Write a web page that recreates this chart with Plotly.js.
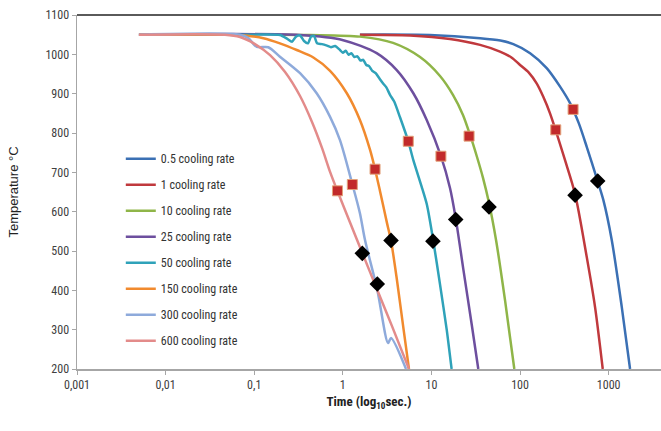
<!DOCTYPE html>
<html>
<head>
<meta charset="utf-8">
<script src="https://cdn.plot.ly/plotly-3.0.1.min.js"></script>
<style>html,body{margin:0;padding:0;background:#fff;}#chart{width:661px;height:431px;}</style>
</head>
<body>
<div id="chart"></div>
<script>
// ---- data ----
const seriesNames = ['0.5 cooling rate','1 cooling rate','10 cooling rate','25 cooling rate','50 cooling rate','150 cooling rate','300 cooling rate','600 cooling rate'];

const time05 = [1.56, 9.6, 35.4, 60, 84, 130, 200, 283, 367, 460, 566, 745, 871, 1084, 1406, 1745];
const temp05 = [1050, 1049, 1041, 1035, 1026, 1003, 965, 918, 876, 825, 765, 680, 630, 528, 358, 200];

const time1 = [1.56, 5.73, 16.2, 35.4, 59.4, 80, 100, 125, 154, 183, 218, 322, 418, 566, 702, 858];
const temp1 = [1050, 1048, 1039, 1024, 1007, 992, 973, 954, 926, 892, 850, 731, 645, 485, 358, 200];

const time10 = [0.206, 0.427, 1.56, 3.69, 7.44, 12.5, 17.5, 22.7, 27.3, 32.7, 38.2, 44.7, 53.6, 67.7, 86.2];
const temp10 = [1050, 1049, 1045, 1029, 993, 945, 897, 846, 795, 739, 686, 622, 528, 375, 200];

const time25 = [0.005, 0.329, 1.01, 2.41, 4.06, 6.25, 8.85, 12.8, 16.2, 18.8, 22.9, 28.5, 33.8];
const temp25 = [1050, 1049, 1036, 1003, 960, 901, 833, 741, 660, 583, 454, 313, 200];

const time50 = [0.005, 0.0898, 0.195, 0.234, 0.267, 0.296, 0.329, 0.365, 0.404, 0.438, 0.473, 0.512, 0.582, 0.664, 0.736, 0.817, 0.929, 1.0, 1.08, 1.16, 1.25, 1.35, 1.46, 1.58, 1.7, 1.84, 1.98, 2.15, 2.35, 2.6, 2.85, 3.1, 3.41, 3.8, 4.42, 5.48, 6.25, 7.77, 8.91, 10.5, 12.5, 14.9, 16.9];
const temp50 = [1050, 1050, 1049, 1040, 1032, 1045, 1048, 1034, 1028, 1045, 1047, 1028, 1026, 1022, 1018, 1021, 1011, 1004, 1009, 999, 1003, 993, 995, 984, 986, 973, 970, 958, 952, 938, 926, 916, 897, 880, 840, 779, 731, 663, 617, 526, 415, 299, 200];

const time150 = [0.005, 0.0533, 0.0787, 0.127, 0.195, 0.302, 0.465, 0.718, 1.11, 1.56, 2.03, 2.31, 2.63, 3.13, 3.50, 4.06, 4.82, 5.58];
const temp150 = [1050, 1050, 1048, 1041, 1028, 1011, 992, 958, 901, 833, 757, 708, 652, 574, 526, 430, 305, 200];

const time300 = [0.005, 0.0692, 0.0851, 0.107, 0.144, 0.195, 0.329, 0.507, 0.718, 0.929, 1.28, 1.56, 1.78, 2.45, 3.24, 3.50, 5.17];
const temp300 = [1050, 1050, 1042, 1019, 1018, 994, 952, 901, 841, 782, 670, 596, 528, 401, 266, 279, 200];

const time600 = [0.005, 0.0468, 0.0692, 0.102, 0.151, 0.223, 0.329, 0.449, 0.582, 0.718, 0.867, 1.21, 1.66, 2.45, 3.59, 5.58];
const temp600 = [1050, 1050, 1044, 1026, 998, 955, 894, 828, 762, 701, 653, 572, 495, 401, 309, 200];

const startTime = [397, 253, 26.6, 12.8, 5.48, 2.31, 1.28, 0.87];
const startTemp = [860, 808, 792, 741, 779, 708, 669, 653];
const finishTime = [753, 418, 44.7, 18.8, 10.4, 3.50, 1.66, 2.45];
const finishTemp = [678, 642, 612, 580, 525, 527, 494, 416];

const xTickVals = [0.001, 0.01, 0.1, 1, 10, 100, 1000];
const xTickText = ['0,001', '0,01', '0,1', '1', '10', '100', '1000'];

// ---- styling ----
const colors = ['#3b70b4', '#c0393d', '#8fb548', '#6d4f9e', '#2fa2b9', '#f18a2e', '#8eaadb', '#e38b8a'];
const times = [time05, time1, time10, time25, time50, time150, time300, time600];
const temps = [temp05, temp1, temp10, temp25, temp50, temp150, temp300, temp600];
const narrow = 'Liberation Sans Narrow, Arial Narrow, Roboto Condensed, Liberation Sans, sans-serif';

const traces = [];
for (let i = 0; i < seriesNames.length; i++) {
  traces.push({
    x: times[i], y: temps[i], name: seriesNames[i], type: 'scatter', mode: 'lines',
    line: {color: colors[i], width: 2.5, shape: 'spline', smoothing: i === 4 ? 0.6 : 0.8},
    legendgroup: 'g' + i, hoverinfo: 'skip'
  });
}
traces.push({
  x: startTime, y: startTemp, type: 'scatter', mode: 'markers', showlegend: false,
  marker: {symbol: 'square', size: 10, color: '#c22a2a', line: {color: '#e2a27a', width: 1}}
});
traces.push({
  x: finishTime, y: finishTemp, type: 'scatter', mode: 'markers', showlegend: false,
  marker: {symbol: 'diamond', size: 12, color: '#000000', line: {width: 0}}
});

const layout = {
  width: 661, height: 431,
  margin: {l: 77, r: 0, t: 15, b: 62},
  paper_bgcolor: '#ffffff', plot_bgcolor: '#ffffff',
  showlegend: true,
  legend: {
    x: 0.075, xanchor: 'left', y: 0.635, yanchor: 'top',
    bgcolor: 'rgba(0,0,0,0)', tracegroupgap: 7,
    font: {family: narrow, size: 12, color: '#333333'}
  },
  xaxis: {
    type: 'log', range: [-3, 3.591],
    tickvals: xTickVals, ticktext: xTickText,
    showgrid: false, zeroline: false,
    showline: true, linecolor: '#a6a6a6', linewidth: 1.5,
    ticks: 'outside', ticklen: 4, tickcolor: '#a6a6a6',
    tickfont: {family: narrow, size: 12, color: '#404040'},
    title: {text: 'Time (log<sub>10</sub>sec.)', font: {family: narrow, size: 13, color: '#222222', weight: 'bold'}, standoff: 6}
  },
  yaxis: {
    range: [200, 1100], dtick: 100,
    showgrid: false, zeroline: false,
    showline: true, linecolor: '#a6a6a6', linewidth: 1.5,
    ticks: 'outside', ticklen: 4, tickcolor: '#a6a6a6',
    tickfont: {family: narrow, size: 12, color: '#404040'},
    title: {text: 'Temperature °C', font: {family: 'Liberation Sans, Arial, sans-serif', size: 13, color: '#222222'}, standoff: 24}
  },
  shapes: [{type: 'line', xref: 'paper', yref: 'paper', x0: 0, x1: 1, y0: 1, y1: 1, line: {color: '#5a5a5a', width: 2}}]
};

Plotly.newPlot('chart', traces, layout, {displayModeBar: false, staticPlot: true});
</script>
</body>
</html>
